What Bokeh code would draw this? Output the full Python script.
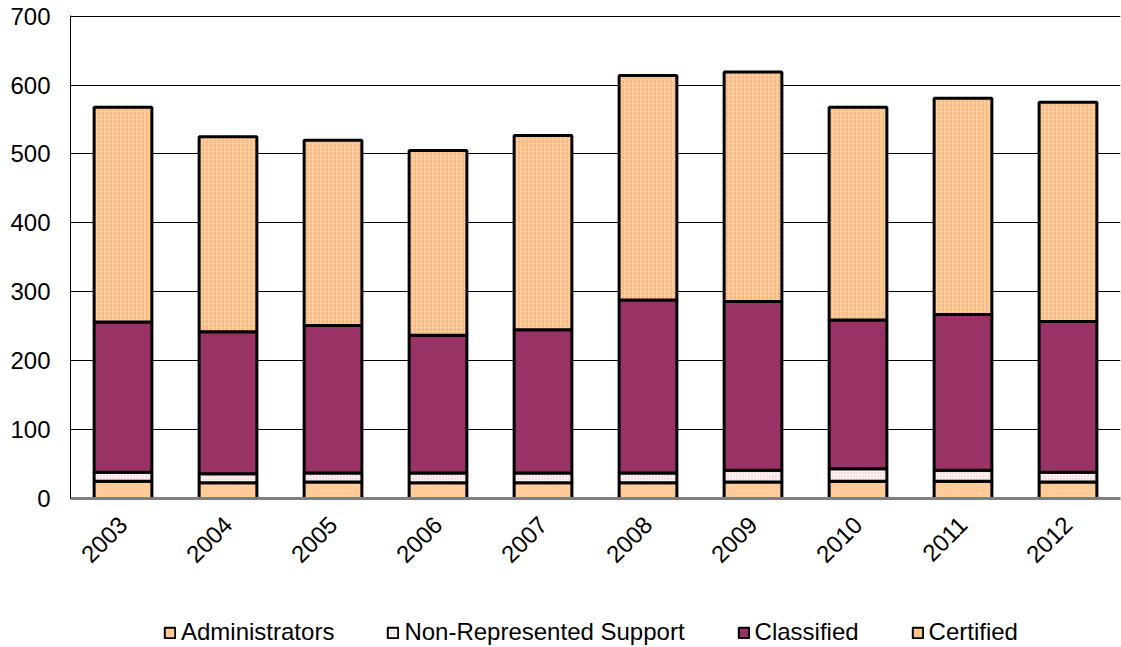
from math import pi
from bokeh.plotting import figure
from bokeh.layouts import column
from bokeh.models import ColumnDataSource, Range1d, FactorRange, Legend, LegendItem
from bokeh.embed import file_html
from bokeh.resources import INLINE

years = ["2003", "2004", "2005", "2006", "2007", "2008", "2009", "2010", "2011", "2012"]
administrators = [25, 23, 24, 23, 23, 23, 24, 25, 25, 24]
non_represented = [13, 13, 13, 14, 14, 14, 17, 18, 16, 14]
classified = [218, 206, 214, 200, 208, 251, 245, 216, 226, 219]
certified = [312, 283, 269, 268, 282, 326, 333, 309, 314, 318]

series = ["Administrators", "Non-Represented Support", "Classified", "Certified"]

source = ColumnDataSource(dict(
    years=years,
    Administrators=administrators,
    **{"Non-Represented Support": non_represented},
    Classified=classified,
    Certified=certified,
))

FONT = "Liberation Sans"
FS = "24px"

fills = ["#FFCC99", "#FFF4F4", "#993366", "#FFCC99"]
hatches = [None, "dot", None, "vertical_dash"]
hatch_colors = ["#FFCC99", "#F0B8B8", "#993366", "#E0A878"]
hatch_scales = [4, 3, 4, 4]

x_range = FactorRange(*years, range_padding=0)

p = figure(
    width=1121, height=617,
    x_range=x_range,
    y_range=Range1d(0, 701),
    output_backend="svg", toolbar_location=None,
    min_border_left=70, min_border_right=1, min_border_top=15, min_border_bottom=119,
)
p.outline_line_color = None
p.background_fill_color = "white"
p.border_fill_color = "white"

p.vbar_stack(
    series, x="years", width=0.55, source=source,
    fill_color=fills, line_color="black", line_width=3,
    hatch_pattern=hatches, hatch_color=hatch_colors, hatch_scale=hatch_scales,
    hatch_weight=1,
)

# axes
p.yaxis.ticker = [0, 100, 200, 300, 400, 500, 600, 700]
p.yaxis.axis_line_color = "black"
p.yaxis.axis_line_width = 1
p.yaxis.major_tick_in = 0
p.yaxis.major_tick_out = 0
p.yaxis.minor_tick_in = 0
p.yaxis.minor_tick_out = 0
p.yaxis.major_label_standoff = 20
p.yaxis.major_label_text_font = FONT
p.yaxis.major_label_text_font_size = FS
p.yaxis.major_label_text_color = "black"

p.xaxis.axis_line_color = "#808080"
p.xaxis.axis_line_width = 3
p.xaxis.major_tick_in = 0
p.xaxis.major_tick_out = 0
p.xaxis.major_label_orientation = pi / 4
p.xaxis.major_label_standoff = 22
p.xaxis.major_label_text_font = FONT
p.xaxis.major_label_text_font_size = FS
p.xaxis.major_label_text_color = "black"

p.xgrid.grid_line_color = None
p.ygrid.grid_line_color = "black"
p.ygrid.grid_line_width = 1

# legend strip below the chart (hidden copies of the bars supply the legend swatches)
lg = figure(
    width=1121, height=30,
    x_range=x_range, y_range=Range1d(0, 701),
    output_backend="svg", toolbar_location=None,
    min_border=0,
)
lg.outline_line_color = None
lg.axis.visible = False
lg.grid.visible = False
lg.border_fill_color = "white"
lg.background_fill_color = "white"

leg_renderers = lg.vbar_stack(
    series, x="years", width=0.55, source=source,
    fill_color=fills, line_color="black", line_width=2,
    hatch_pattern=hatches, hatch_color=hatch_colors, hatch_scale=hatch_scales,
    hatch_weight=1,
)
for r in leg_renderers:
    r.visible = False

legend = Legend(
    items=[LegendItem(label=s, renderers=[r]) for s, r in zip(series, leg_renderers)],
    orientation="horizontal",
    location=(93, 1),
    border_line_color=None,
    background_fill_alpha=0,
    inactive_fill_alpha=0,
    padding=0, margin=0,
    spacing=52,
    glyph_width=13, glyph_height=13,
    label_standoff=5,
    label_text_font=FONT,
    label_text_font_size=FS,
    label_text_color="black",
    label_height=24,
)
lg.add_layout(legend, "center")

layout = column(p, lg, spacing=0)
open("out.html", "w").write(file_html(layout, INLINE))
